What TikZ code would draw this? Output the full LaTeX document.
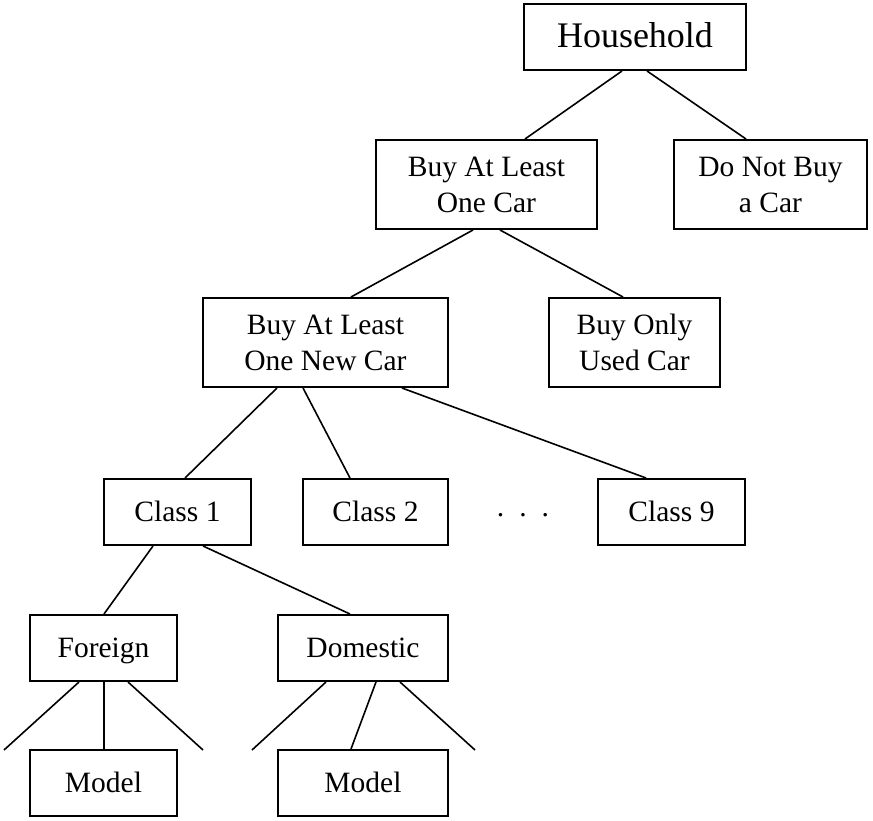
\documentclass[tikz,border=0pt]{standalone}
\usepackage{fontspec}
\setmainfont{Liberation Serif}
\begin{document}
\begin{tikzpicture}[x=1pt,y=-1pt,
  box/.style={draw, line width=1.6pt, inner sep=0pt, align=center,
    font=\fontsize{29.5}{36}\selectfont},
  smallbox/.style={box, minimum height=66.4pt, text height=20pt, text depth=2pt},
  tallbox/.style={box, minimum height=89.4pt},
  conn/.style={line width=1.6pt}]
\useasboundingbox (0,0) rectangle (873,821);
% level 0
\node[smallbox, minimum width=222.4pt, font=\fontsize{36}{40}\selectfont, text height=24pt, text depth=3pt] (hh) at (635,37) {Household};
% level 1
\node[tallbox, minimum width=221.4pt] (baloc) at (486.5,184.5) {Buy At Least\\One Car};
\node[tallbox, minimum width=193.4pt] (dnb) at (770.5,184.5) {Do Not Buy\\a Car};
% level 2
\node[tallbox, minimum width=245.4pt] (new) at (325.5,342.5) {Buy At Least\\One New Car};
\node[tallbox, minimum width=171.4pt] (used) at (634.5,342.5) {Buy Only\\Used Car};
% level 3
\node[smallbox, minimum width=147.4pt] (c1) at (177.5,512) {Class 1};
\node[smallbox, minimum width=145.4pt] (c2) at (375.5,512) {Class 2};
\node[font=\fontsize{29.5}{36}\selectfont, inner sep=0pt] (dots) at (523,515) {.\hspace{15pt}.\hspace{15pt}.};
\node[smallbox, minimum width=147.4pt] (c9) at (671.5,512) {Class 9};
% level 4
\node[smallbox, minimum width=147.4pt] (for) at (103.5,648) {Foreign};
\node[smallbox, minimum width=170.4pt] (dom) at (363,648) {Domestic};
% level 5
\node[smallbox, minimum width=147.4pt] (m1) at (103.5,783) {Model};
\node[smallbox, minimum width=170.4pt] (m2) at (363,783) {Model};
% free ends
\coordinate (fl) at (4,750);
\coordinate (fr) at (203,750);
\coordinate (dl) at (252,750);
\coordinate (dr) at (475,750);
% connectors
\draw[conn] ([xshift=-13pt]hh.south) -- ([xshift=38.5pt]baloc.north);
\draw[conn] ([xshift=12pt]hh.south) -- ([xshift=-24.5pt]dnb.north);
\draw[conn] ([xshift=-13.5pt]baloc.south) -- ([xshift=25.5pt]new.north);
\draw[conn] ([xshift=13.5pt]baloc.south) -- ([xshift=-11.5pt]used.north);
\draw[conn] ([xshift=-48.5pt]new.south) -- ([xshift=7.5pt]c1.north);
\draw[conn] ([xshift=-22.5pt]new.south) -- ([xshift=-25.5pt]c2.north);
\draw[conn] ([xshift=76.5pt]new.south) -- ([xshift=-25.5pt]c9.north);
\draw[conn] ([xshift=-24.5pt]c1.south) -- ([xshift=0.5pt]for.north);
\draw[conn] ([xshift=25.5pt]c1.south) -- ([xshift=-13pt]dom.north);
\draw[conn] ([xshift=-24.5pt]for.south) -- (fl);
\draw[conn] ([xshift=0.3pt]for.south) -- ([xshift=0.3pt]m1.north);
\draw[conn] ([xshift=24.5pt]for.south) -- (fr);
\draw[conn] ([xshift=-37pt]dom.south) -- (dl);
\draw[conn] ([xshift=13pt]dom.south) -- ([xshift=-12pt]m2.north);
\draw[conn] ([xshift=37pt]dom.south) -- (dr);
\end{tikzpicture}
\end{document}
